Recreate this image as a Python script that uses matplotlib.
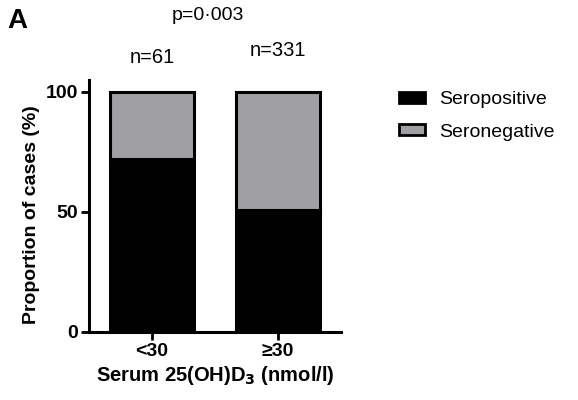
import numpy as np
import matplotlib.pyplot as plt
from matplotlib.patches import Patch

groups = ['<30', '≥30']
n_labels = ['n=61', 'n=331']
seropositive = [72, 51]
seronegative = [28, 49]

plt.rcParams['font.family'] = ['Liberation Sans', 'DejaVu Sans']

fig = plt.figure(figsize=(5.78, 4.0), dpi=100)
ax = fig.add_axes([0.154, 0.17, 0.436, 0.63])

x = np.arange(len(groups))
w = 0.66
gray = '#a09fa3'
ax.bar(x, seropositive, w, color='black', edgecolor='black', linewidth=2.2)
ax.bar(x, seronegative, w, bottom=seropositive, color=gray, edgecolor='black', linewidth=2.2)

ax.set_xlim(-0.5, 1.5)
ax.set_ylim(0, 105)
ax.set_yticks([0, 50, 100])
ax.set_xticks(x)
ax.set_xticklabels(groups, fontweight='bold', fontsize=14)
for lab in ax.get_yticklabels():
    lab.set_fontweight('bold')
    lab.set_fontsize(14)
ax.tick_params(width=2, length=6, pad=2)
for s in ['top', 'right']:
    ax.spines[s].set_visible(False)
for s in ['left', 'bottom']:
    ax.spines[s].set_linewidth(2.2)

ax.set_xlabel('Serum 25(OH)D$_\\mathbf{3}$ (nmol/l)', fontweight='bold', fontsize=14.5, labelpad=3)
ax.set_ylabel('Proportion of cases (%)', fontweight='bold', fontsize=14, labelpad=4, y=0.465)

# n labels above bars
for xi, lbl, yoff in zip(x, n_labels, [0.857, 0.875]):
    fig.text(ax.transData.transform((xi, 0))[0] / fig.bbox.width, yoff, lbl,
             ha='center', va='center', fontsize=14.5)

fig.text(0.36, 0.962, 'p=0·003', ha='center', va='center', fontsize=14)
fig.text(0.012, 0.948, 'A', ha='left', va='center', fontsize=20, fontweight='bold')

handles = [Patch(facecolor='black', edgecolor='black', linewidth=2),
           Patch(facecolor=gray, edgecolor='black', linewidth=2)]
fig.legend(handles, ['Seropositive', 'Seronegative'], loc='upper left',
           bbox_to_anchor=(0.666, 0.806), frameon=False, fontsize=14,
           handlelength=1.35, handleheight=0.5, labelspacing=0.8, handletextpad=0.75,
           borderaxespad=0.3)

fig.savefig('out.png', dpi=100)
